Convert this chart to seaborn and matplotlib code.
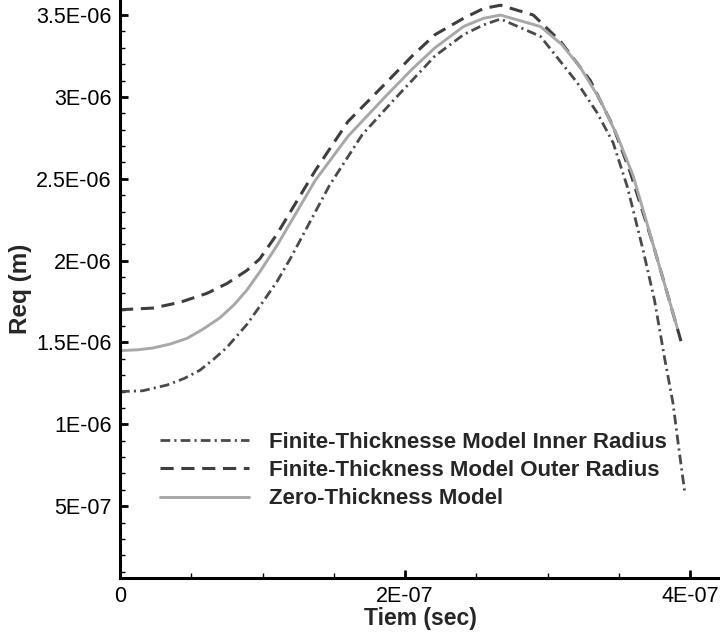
import matplotlib
matplotlib.use("Agg")
import matplotlib.pyplot as plt
from matplotlib.ticker import FuncFormatter, MultipleLocator
import numpy as np
import seaborn as sns

# time in units of 1E-07 s, radius in units of 1E-06 m
t_inner = [0, 0.16, 0.33, 0.45, 0.56, 0.66, 0.75, 0.89, 0.98, 1.10, 1.20, 1.47, 1.70, 1.93,
           2.21, 2.41, 2.55, 2.67, 2.95, 3.21, 3.35, 3.46, 3.56, 3.67, 3.75, 3.82, 3.88,
           3.92, 3.965]
r_inner = [1.20, 1.205, 1.24, 1.28, 1.33, 1.40, 1.47, 1.61, 1.72, 1.87, 2.02, 2.46, 2.77, 2.99,
           3.25, 3.38, 3.44, 3.476, 3.37, 3.085, 2.90, 2.72, 2.45, 2.065, 1.76, 1.41, 1.13,
           0.86, 0.57]

t_outer = [0, 0.23, 0.42, 0.61, 0.75, 0.89, 0.98, 1.10, 1.37, 1.60, 1.86, 2.05, 2.21, 2.41,
           2.55, 2.67, 2.90, 3.09, 3.30, 3.46, 3.58, 3.74, 3.86, 3.95]
r_outer = [1.70, 1.71, 1.745, 1.80, 1.86, 1.94, 2.01, 2.16, 2.55, 2.85, 3.08, 3.25, 3.38, 3.48,
           3.54, 3.56, 3.50, 3.34, 3.10, 2.82, 2.54, 2.10, 1.74, 1.466]

t_zero = [0, 0.12, 0.23, 0.35, 0.47, 0.58, 0.70, 0.80, 0.89, 0.98, 1.10, 1.37, 1.60, 1.86,
          2.05, 2.21, 2.41, 2.55, 2.67, 2.95, 3.10, 3.23, 3.37, 3.49, 3.60, 3.74, 3.91]
r_zero = [1.45, 1.455, 1.466, 1.49, 1.525, 1.58, 1.65, 1.73, 1.82, 1.93, 2.09, 2.49, 2.76, 3.00,
          3.17, 3.30, 3.43, 3.48, 3.50, 3.43, 3.32, 3.18, 2.98, 2.76, 2.52, 2.10, 1.59]

labels = ["Finite-Thicknesse Model Inner Radius",
          "Finite-Thickness Model Outer Radius",
          "Zero-Thickness Model"]

sns.set_style("ticks")
plt.rcParams['font.family'] = ['Liberation Sans', 'DejaVu Sans']
plt.rcParams['lines.scale_dashes'] = False

fig = plt.figure(figsize=(7.2, 6.32), dpi=100)
ax = fig.add_axes([0.1667, 0.0854, 0.8333, 0.9146])

sns.lineplot(x=np.array(t_inner) * 1e-7, y=np.array(r_inner) * 1e-6, ax=ax,
             color="#4a4a4a", linewidth=2.0, linestyle=(0, (7, 3, 1.5, 3)), label=labels[0])
sns.lineplot(x=np.array(t_outer) * 1e-7, y=np.array(r_outer) * 1e-6, ax=ax,
             color="#3e3e3e", linewidth=2.2, linestyle=(0, (9.5, 5.5)), label=labels[1])
sns.lineplot(x=np.array(t_zero) * 1e-7, y=np.array(r_zero) * 1e-6, ax=ax,
             color="#a8a8a8", linewidth=2.1, linestyle="-", label=labels[2])

ax.set_xlim(0, 4.21e-7)
ax.set_ylim(0.061e-6, 3.592e-6)

ax.xaxis.set_major_locator(MultipleLocator(2e-7))
ax.xaxis.set_minor_locator(MultipleLocator(0.5e-7))
ax.yaxis.set_major_locator(MultipleLocator(5e-7))
ax.yaxis.set_minor_locator(MultipleLocator(1e-7))

fmt = FuncFormatter(lambda v, p: "0" if abs(v) < 1e-12 else "%G" % v)
ax.xaxis.set_major_formatter(fmt)
ax.yaxis.set_major_formatter(fmt)

for s in ["top", "right"]:
    ax.spines[s].set_visible(False)
for s in ["left", "bottom"]:
    ax.spines[s].set_linewidth(2.2)
    ax.spines[s].set_color("black")

ax.tick_params(which="major", direction="in", length=6, width=2, labelsize=15.5, pad=6,
               colors="black")
ax.tick_params(which="minor", direction="in", length=3.5, width=1, colors="black")

ax.set_xlabel("Tiem (sec)", fontsize=16.5, fontweight="bold", labelpad=0)
ax.set_ylabel("Req (m)", fontsize=17.5, fontweight="bold", labelpad=3)

ax.legend(loc="upper left", bbox_to_anchor=(0.222, 0.317), bbox_transform=fig.transFigure,
          frameon=False, prop={"weight": "bold", "size": 16},
          handlelength=4.0, handletextpad=0.9, labelspacing=0.33, borderpad=0,
          borderaxespad=0)

fig.savefig("out.png", dpi=100)
